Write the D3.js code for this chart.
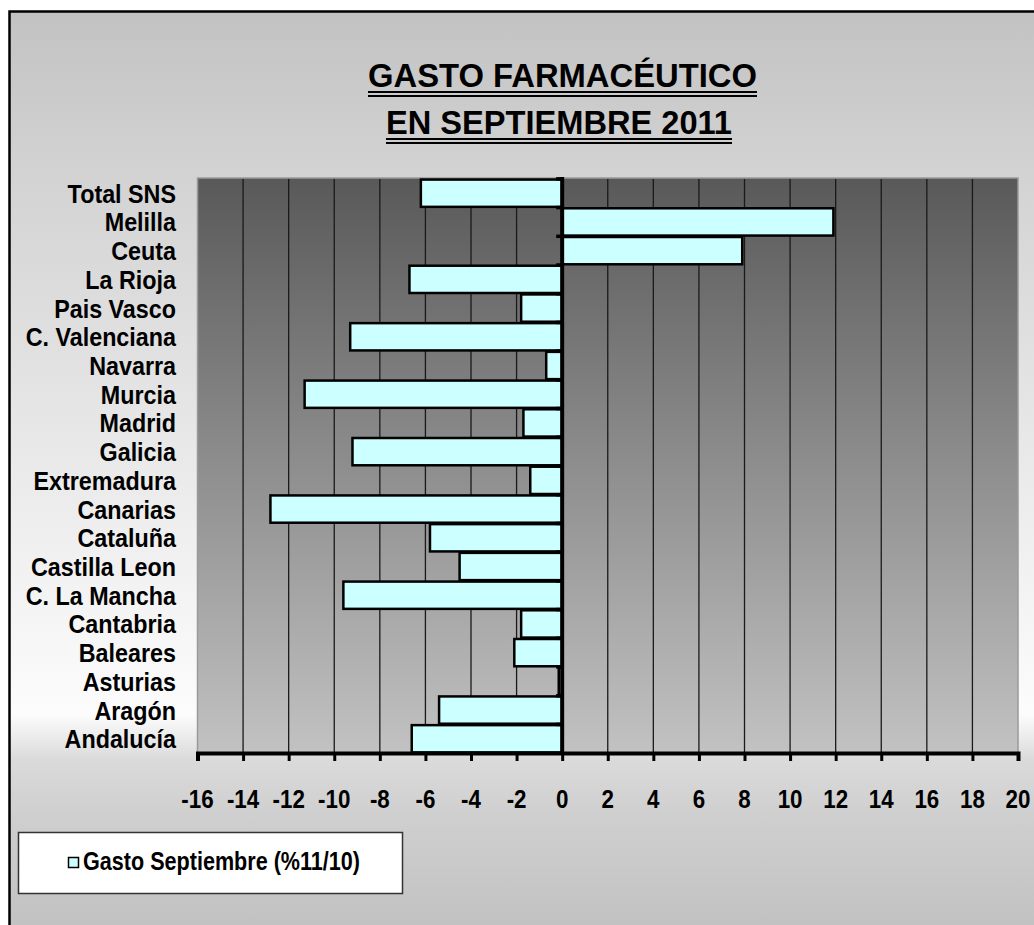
<!DOCTYPE html>
<html>
<head>
<meta charset="utf-8">
<script src="https://cdn.jsdelivr.net/npm/d3@7"></script>
<style>
  body { margin: 0; background: #fff; }
  text { font-family: "Liberation Sans", Arial, sans-serif; font-weight: bold; fill: #000; }
</style>
</head>
<body>
<svg id="chart" width="1034" height="925"></svg>
<script>
// data
var regiones = ["Total SNS", "Melilla", "Ceuta", "La Rioja", "Pais Vasco", "C. Valenciana",
    "Navarra", "Murcia", "Madrid", "Galicia", "Extremadura", "Canarias", "Cataluña",
    "Castilla Leon", "C. La Mancha", "Cantabria", "Baleares", "Asturias", "Aragón", "Andalucía"];
var gasto = [-6.2, 11.9, 7.9, -6.7, -1.8, -9.3, -0.7, -11.3, -1.7, -9.2, -1.4, -12.8, -5.8,
    -4.5, -9.6, -1.8, -2.1, -0.15, -5.4, -6.6];
var ticksX = [-16, -14, -12, -10, -8, -6, -4, -2, 0, 2, 4, 6, 8, 10, 12, 14, 16, 18, 20];
var tituloLineas = ["GASTO FARMACÉUTICO", "EN SEPTIEMBRE 2011"];
var leyendaTexto = "Gasto Septiembre (%11/10)";

var svg = d3.select("#chart");
var defs = svg.append("defs");

// chart area fill: gray at the top, light near the lower plot edge, gray again at the bottom
var bg = defs.append("linearGradient").attr("id", "bgGrad")
    .attr("gradientUnits", "userSpaceOnUse")
    .attr("x1", 0).attr("y1", 11).attr("x2", 0).attr("y2", 925);
bg.append("stop").attr("offset", "0%").attr("stop-color", "#c2c2c2");
bg.append("stop").attr("offset", "17%").attr("stop-color", "#d2d2d2");
bg.append("stop").attr("offset", "50%").attr("stop-color", "#eaeaea");
bg.append("stop").attr("offset", "77%").attr("stop-color", "#fcfcfc");
bg.append("stop").attr("offset", "82%").attr("stop-color", "#dadada");
bg.append("stop").attr("offset", "88%").attr("stop-color", "#cfcfcf");
bg.append("stop").attr("offset", "100%").attr("stop-color", "#c2c2c2");

var plotGrad = defs.append("linearGradient").attr("id", "plotGrad")
    .attr("x1", 0).attr("y1", 0).attr("x2", 0).attr("y2", 1);
plotGrad.append("stop").attr("offset", "0%").attr("stop-color", "#595959");
plotGrad.append("stop").attr("offset", "100%").attr("stop-color", "#c2c2c2");

// chart frame
svg.append("rect")
    .attr("x", 9.5).attr("y", 11.5)
    .attr("width", 1100).attr("height", 1000)
    .attr("fill", "url(#bgGrad)")
    .attr("stroke", "#000")
    .attr("stroke-width", 2.5);

var x = d3.scaleLinear().domain([-16, 20]).range([197.5, 1018]);
var y = d3.scaleBand().domain(regiones).range([179, 753]).paddingInner(0.05).paddingOuter(0.02);

// plot area
svg.append("rect")
    .attr("x", x(-16)).attr("y", 178)
    .attr("width", x(20) - x(-16)).attr("height", 753 - 178)
    .attr("fill", "url(#plotGrad)")
    .attr("stroke", "#9a9a9a")
    .attr("stroke-width", 1.5);

// vertical gridlines
svg.append("g").selectAll("line")
    .data(ticksX.filter(function (d) { return d !== 0 && d !== -16 && d !== 20; }))
    .enter().append("line")
    .attr("x1", function (d) { return x(d); })
    .attr("x2", function (d) { return x(d); })
    .attr("y1", 179).attr("y2", 753)
    .attr("stroke", "#1a1a1a")
    .attr("stroke-width", 1.3);

// bars
svg.append("g").selectAll("rect")
    .data(regiones)
    .enter().append("rect")
    .attr("x", function (d, i) { return x(Math.min(0, gasto[i])); })
    .attr("y", function (d) { return y(d); })
    .attr("width", function (d, i) { return Math.abs(x(gasto[i]) - x(0)); })
    .attr("height", y.bandwidth())
    .attr("fill", "#ccffff")
    .attr("stroke", "#000")
    .attr("stroke-width", 2.5);

// zero axis with category ticks
svg.append("line")
    .attr("x1", x(0)).attr("x2", x(0))
    .attr("y1", 177).attr("y2", 755)
    .attr("stroke", "#000").attr("stroke-width", 4);

var step = y.step();
var bordes = regiones.map(function (d) { return y(d) - (step - y.bandwidth()) / 2; });
svg.append("g").selectAll("line")
    .data(bordes)
    .enter().append("line")
    .attr("x1", x(0) - 6).attr("x2", x(0))
    .attr("y1", function (d) { return d; })
    .attr("y2", function (d) { return d; })
    .attr("stroke", "#000").attr("stroke-width", 3.5);

// bottom axis
var axisX = d3.axisBottom(x).tickValues(ticksX).tickSize(8).tickFormat("");
var gx = svg.append("g").attr("transform", "translate(0,753)").call(axisX);
gx.select(".domain").attr("stroke", "#000").attr("stroke-width", 4);
gx.selectAll(".tick line").attr("stroke", "#000").attr("stroke-width", 3);

svg.append("g").selectAll("text")
    .data(ticksX)
    .enter().append("text")
    .attr("transform", function (d) { return "translate(" + x(d) + ",808) scale(0.86,1)"; })
    .attr("text-anchor", "middle")
    .style("font-size", "26px")
    .text(function (d) { return d; });

// category labels
svg.append("g").selectAll("text")
    .data(regiones)
    .enter().append("text")
    .attr("transform", function (d) {
        return "translate(176," + (y(d) + y.bandwidth() / 2 + 9.5) + ") scale(0.88,1)";
    })
    .attr("text-anchor", "end")
    .style("font-size", "26.5px")
    .text(function (d) { return d; });

// title with double underline
var tituloPos = [{ x: 368, w: 389, base: 87 }, { x: 386, w: 346, base: 134 }];
tituloLineas.forEach(function (t, i) {
    var p = tituloPos[i];
    svg.append("text")
        .attr("x", p.x).attr("y", p.base)
        .attr("textLength", p.w).attr("lengthAdjust", "spacingAndGlyphs")
        .style("font-size", "34px")
        .text(t);
    [5, 9].forEach(function (off) {
        svg.append("line")
            .attr("x1", p.x).attr("x2", p.x + p.w)
            .attr("y1", p.base + off).attr("y2", p.base + off)
            .attr("stroke", "#000").attr("stroke-width", 2);
    });
});

// legend
var legend = svg.append("g");
legend.append("rect")
    .attr("x", 18.5).attr("y", 832.5)
    .attr("width", 384).attr("height", 61)
    .attr("fill", "#fff")
    .attr("stroke", "#333").attr("stroke-width", 1.5);
legend.append("rect")
    .attr("x", 68.5).attr("y", 857.5)
    .attr("width", 10).attr("height", 10)
    .attr("fill", "#ccffff")
    .attr("stroke", "#000").attr("stroke-width", 1.5);
legend.append("text")
    .attr("x", 83).attr("y", 870)
    .attr("textLength", 277).attr("lengthAdjust", "spacingAndGlyphs")
    .style("font-size", "26px")
    .text(leyendaTexto);
</script>
</body>
</html>
